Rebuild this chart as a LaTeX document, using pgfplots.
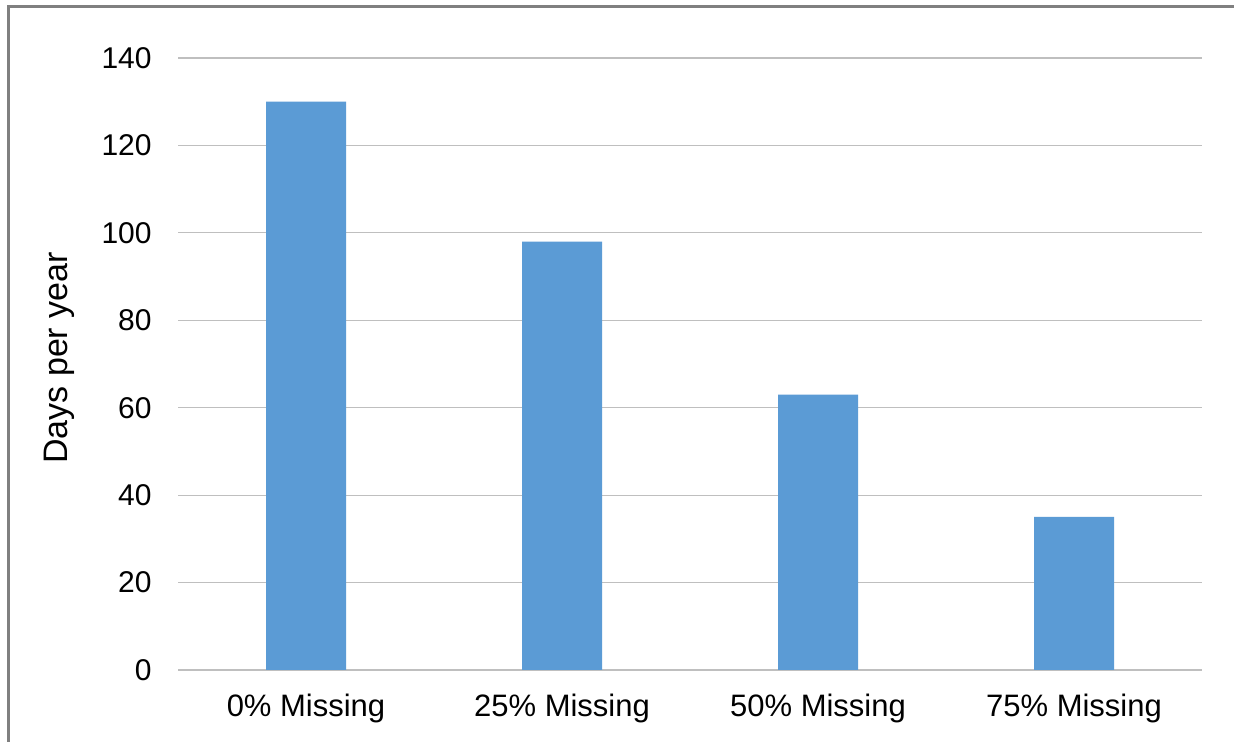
\documentclass[border=0pt]{standalone}
\usepackage{pgfplots}
\pgfplotsset{compat=1.18}
\usepackage{fontspec}
\setmainfont{Liberation Sans}
\definecolor{barblue}{HTML}{5B9BD5}
\definecolor{gridgray}{HTML}{BFBFBF}
\definecolor{framegray}{HTML}{808080}
\begin{document}
\begin{tikzpicture}[x=1pt,y=1pt]
\useasboundingbox (0,0) rectangle (617,371);
\fill[white] (0,0) rectangle (617,371);
\begin{axis}[
  at={(89pt,36pt)}, anchor=south west,
  scale only axis, width=512pt, height=306pt,
  xmin=-0.5, xmax=3.5, ymin=0, ymax=140,
  ytick={0,20,...,140},
  xtick={0,1,2,3},
  xticklabels={0\% Missing,25\% Missing,50\% Missing,75\% Missing},
  axis lines*=left,
  x axis line style={draw=gridgray, line width=0.6pt},
  y axis line style={draw=none},
  ymajorgrids, grid style={draw=gridgray, line width=0.6pt},
  major tick length=0pt, tick style={draw=none},
  /pgf/number format/assume math mode=true,
  ticklabel style={text=black},
  yticklabel style={font=\fontsize{15}{18}\selectfont, anchor=east, inner sep=0pt, xshift=-13pt},
  xticklabel style={font=\fontsize{15.5}{18}\selectfont, anchor=north, inner sep=0pt, yshift=-12pt},
  ylabel={Days per year},
  ylabel style={at={(axis description cs:-0.1160,0.51)}, anchor=center, font=\fontsize{17}{20}\selectfont, inner sep=0pt},
  ybar, bar width=40pt,
  clip=false,
]
\addplot[fill=barblue, draw=none] coordinates {(0,130) (1,98) (2,63) (3,35)};
\end{axis}
\draw[framegray, line width=1.5pt] (4.25,-2) -- (4.25,367.75) -- (617,367.75);
\end{tikzpicture}
\end{document}
